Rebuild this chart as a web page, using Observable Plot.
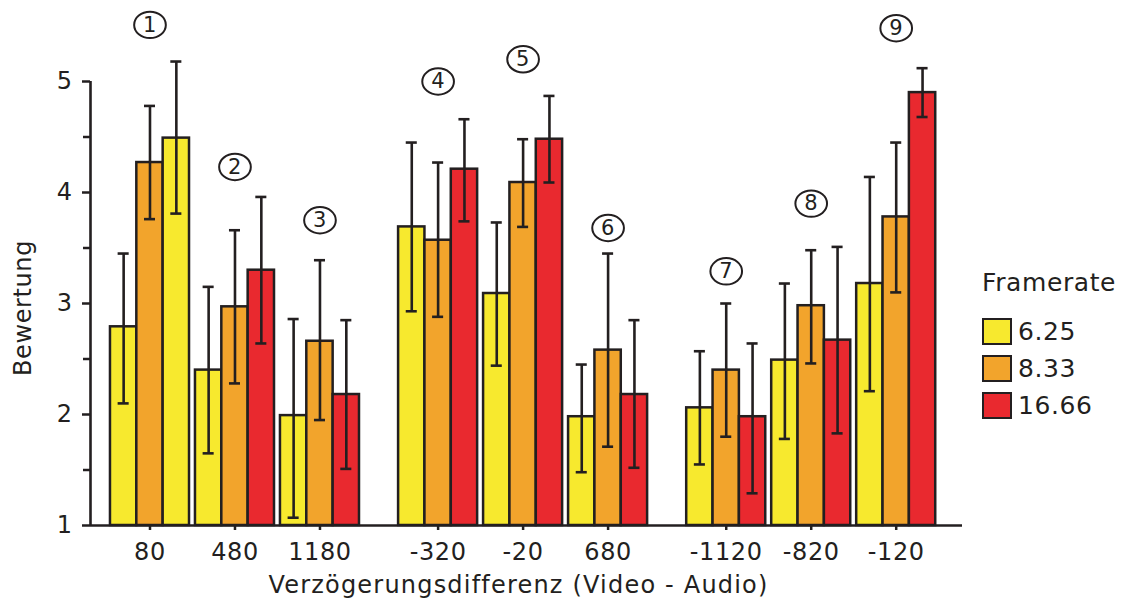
<!DOCTYPE html>
<html>
<head>
<meta charset="utf-8">
<script src="https://cdn.jsdelivr.net/npm/d3@7"></script>
<script src="https://cdn.jsdelivr.net/npm/@observablehq/plot@0.6"></script>
<style>
  html, body { margin: 0; padding: 0; background: #fff; }
  #wrap { position: relative; width: 1126px; height: 605px; overflow: hidden; font-family: "DejaVu Sans", sans-serif; color: #231f20; }
  #chart svg text { letter-spacing: 0.6px; }
  .lg { position: absolute; font-size: 25px; line-height: 30px; letter-spacing: 0.6px; white-space: nowrap; }
  .sw { position: absolute; width: 30px; height: 27px; box-sizing: border-box; border: 2px solid #231f20; }
</style>
</head>
<body>
<div id="wrap">
  <div id="chart"></div>
</div>
<script>
// ---- data ----
const groups = ["80", "480", "1180", "-320", "-20", "680", "-1120", "-820", "-120"];
const clusterOf = [0, 0, 0, 1, 1, 1, 2, 2, 2];
const series = ["6.25", "8.33", "16.66"];
const colors = ["#f7e92e", "#f2a42c", "#e9292f"];

const mean625  = [2.79, 2.40, 1.99, 3.69, 3.09, 1.98, 2.06, 2.49, 3.18];
const mean833  = [4.27, 2.97, 2.66, 3.57, 4.09, 2.58, 2.40, 2.98, 3.78];
const mean1666 = [4.49, 3.30, 2.18, 4.21, 4.48, 2.18, 1.98, 2.67, 4.90];

const lo625  = [2.10, 1.65, 1.07, 2.93, 2.44, 1.48, 1.55, 1.78, 2.21];
const hi625  = [3.45, 3.15, 2.86, 4.45, 3.73, 2.45, 2.57, 3.18, 4.14];
const lo833  = [3.76, 2.28, 1.95, 2.88, 3.69, 1.71, 1.80, 2.46, 3.10];
const hi833  = [4.78, 3.66, 3.39, 4.27, 4.48, 3.45, 3.00, 3.48, 4.45];
const lo1666 = [3.81, 2.64, 1.51, 3.74, 4.09, 1.52, 1.29, 1.83, 4.68];
const hi1666 = [5.18, 3.96, 2.85, 4.66, 4.87, 2.85, 2.64, 3.51, 5.12];

// In the source figure the 16.66 bar of group "80" is drawn in the 6.25 colour.
const colourAs = [["80", "16.66", "6.25"]];

const annLabels = ["1", "2", "3", "4", "5", "6", "7", "8", "9"];
const annGroups = ["80", "480", "1180", "-320", "-20", "680", "-1120", "-820", "-120"];
const annY = [5.51, 4.23, 3.75, 5.00, 5.20, 3.68, 3.29, 3.90, 5.48];

const yMajor = [1, 2, 3, 4, 5];
const yMinor = [1.5, 2.5, 3.5, 4.5];

const xTitle = "Verzögerungsdifferenz (Video - Audio)";
const yTitle = "Bewertung";
const legendTitle = "Framerate";

// ---- build ----
const clusterGap = 0.39;
const barW = 0.31;
const capHalf = 0.065;
const xPos = groups.map((g, i) => i + clusterGap * clusterOf[i]);
const posOf = new Map(groups.map((g, i) => [g, xPos[i]]));
const means = [mean625, mean833, mean1666];
const los = [lo625, lo833, lo1666];
const his = [hi625, hi833, hi1666];

const rows = [];
groups.forEach((g, i) => {
  series.forEach((s, k) => {
    const ov = colourAs.find(c => c[0] === g && c[1] === s);
    const c = xPos[i] + (k - 1) * barW;
    rows.push({group: g, series: s, fillKey: ov ? ov[2] : s,
      x1: c - barW / 2, x2: c + barW / 2, c,
      mean: means[k][i], lo: los[k][i], hi: his[k][i]});
  });
});
const caps = rows.flatMap(d => [{c: d.c, v: d.lo}, {c: d.c, v: d.hi}]);
const anns = annLabels.map((l, i) => ({label: l, x: posOf.get(annGroups[i]), y: annY[i]}));
const tickLabel = new Map(xPos.map((p, i) => [p, groups[i]]));

const ink = "#231f20";
const ellipse = {
  draw(ctx, size) {
    const r = Math.sqrt(size / Math.PI);
    const rx = r * 1.2, ry = r, k = 0.5523;
    ctx.moveTo(rx, 0);
    ctx.bezierCurveTo(rx, ry * k, rx * k, ry, 0, ry);
    ctx.bezierCurveTo(-rx * k, ry, -rx, ry * k, -rx, 0);
    ctx.bezierCurveTo(-rx, -ry * k, -rx * k, -ry, 0, -ry);
    ctx.bezierCurveTo(rx * k, -ry, rx, -ry * k, rx, 0);
    ctx.closePath();
  }
};

const chart = Plot.plot({
  width: 1126,
  height: 605,
  marginLeft: 90,
  marginRight: 164,
  marginTop: 81,
  marginBottom: 80,
  style: {fontFamily: "DejaVu Sans", fontSize: "24px", color: ink, background: "white", overflow: "visible"},
  x: {domain: [xPos[0] - 0.70, xPos[xPos.length - 1] + 0.78], label: null},
  y: {domain: [1, 5], label: null},
  color: {domain: series, range: colors},
  marks: [
    Plot.rect(rows, {x1: "x1", x2: "x2", y1: 1, y2: "mean", fill: "fillKey", stroke: ink, strokeWidth: 2.5}),
    Plot.ruleX(rows, {x: "c", y1: "lo", y2: "hi", stroke: ink, strokeWidth: 2.6}),
    Plot.ruleY(caps, {y: "v", x1: d => d.c - capHalf, x2: d => d.c + capHalf, stroke: ink, strokeWidth: 2.6}),
    Plot.ruleY([1], {stroke: ink, strokeWidth: 2.6}),
    Plot.ruleX([xPos[0] - 0.70], {stroke: ink, strokeWidth: 2.6}),
    Plot.axisY({ticks: yMajor, tickFormat: d => String(d), tickSize: 8, tickPadding: 10, strokeWidth: 2.5, fontSize: 24, label: null}),
    Plot.axisY({ticks: yMinor, tickSize: 7, tickFormat: () => "", strokeWidth: 2.5, label: null}),
    Plot.axisX({ticks: xPos, tickFormat: d => tickLabel.get(d), tickSize: 5, tickPadding: 12, strokeWidth: 2.5, fontSize: 24, label: null}),
    Plot.dot(anns, {x: "x", y: "y", r: 13.2, symbol: ellipse, stroke: ink, strokeWidth: 2, fill: "none"}),
    Plot.text(anns, {x: "x", y: "y", text: "label", fontSize: 21, fill: ink}),
    Plot.text([xTitle], {frameAnchor: "bottom", textAnchor: "middle", dy: 67, dx: -8, fontSize: 24, fill: ink}),
    Plot.text([yTitle], {frameAnchor: "left", textAnchor: "middle", rotate: -90, dx: -67, dy: 4.5, fontSize: 24, fill: ink})
  ]
});
document.getElementById("chart").appendChild(chart);
// wider letter spacing for the x-axis title, as in the source figure
chart.querySelectorAll("text").forEach(t => {
  if (t.textContent === xTitle) t.style.letterSpacing = "1.2px";
});

// ---- legend ----
const wrap = document.getElementById("wrap");
const title = document.createElement("div");
title.className = "lg";
title.style.left = "982px";
title.style.top = "268px";
title.textContent = legendTitle;
wrap.appendChild(title);
series.forEach((s, k) => {
  const top = 318 + k * 37;
  const sw = document.createElement("div");
  sw.className = "sw";
  sw.style.left = "982px";
  sw.style.top = top + "px";
  sw.style.background = colors[k];
  wrap.appendChild(sw);
  const lb = document.createElement("div");
  lb.className = "lg";
  lb.style.left = "1018px";
  lb.style.top = (top - 1.5) + "px";
  lb.textContent = s;
  wrap.appendChild(lb);
});
</script>
</body>
</html>
